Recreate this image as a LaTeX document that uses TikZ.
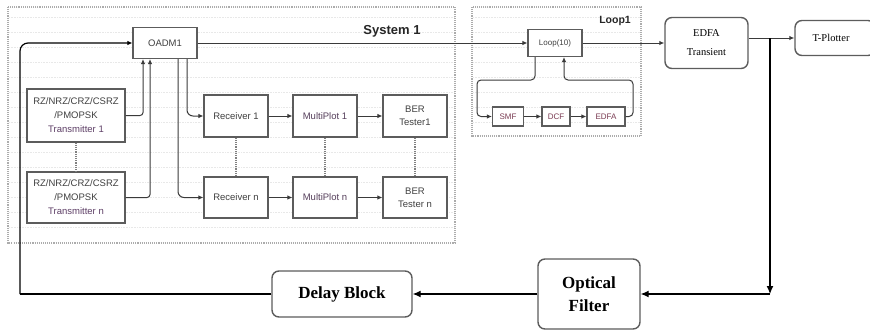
\documentclass[tikz,border=0pt]{standalone}
\usepackage{fontspec}
\setmainfont{Liberation Serif}
\setsansfont{Liberation Sans}
\usetikzlibrary{arrows.meta}
\definecolor{boxline}{HTML}{5C5C5C}
\definecolor{wire}{HTML}{3A3A3A}
\definecolor{txtgray}{HTML}{404040}
\definecolor{purp}{HTML}{5E3F66}
\definecolor{redp}{HTML}{7A3B52}
\begin{document}
\begin{tikzpicture}[x=1pt,y=-1pt,
  blk/.style={draw=boxline, line width=1.1pt, fill=white, inner sep=0pt,
    align=center, text=txtgray, font=\sffamily\fontsize{9.5}{13}\selectfont},
  small/.style={blk, font=\sffamily\fontsize{8}{9}\selectfont, text=redp},
  rblk/.style={draw=boxline, line width=1.4pt, fill=white, rounded corners=7pt,
    inner sep=0pt, align=center, text=black},
  arr/.style={draw=wire, line width=1pt, -{Latex[length=5pt,width=4.5pt]}},
  bigarr/.style={draw=black, line width=1.2pt, -{Latex[length=8pt,width=7pt]}},
  vlink/.style={draw=gray, densely dotted, line width=1.2pt},
  frame/.style={draw=gray!65, densely dotted, line width=1.1pt},
  gridline/.style={draw=gray!18, densely dotted, line width=0.6pt},
  title/.style={font=\sffamily\bfseries\fontsize{13}{15}\selectfont, text=black!85}]
\useasboundingbox (0,0) rectangle (870,332);

% dotted frames with a faint grid
\foreach \yy in {17,32,...,232} \draw[gridline] (9,\yy) -- (454,\yy);
\foreach \yy in {17,32,...,127} \draw[gridline] (473,\yy) -- (640,\yy);
\draw[frame] (8,7) rectangle (455,243);
\draw[frame] (472,7) rectangle (641,136);

\node[title] (sys) at (392,31) {System 1};
\node[title, font=\sffamily\bfseries\fontsize{10.5}{12}\selectfont] (lp1) at (615,21) {Loop1};

% system 1 blocks
\node[blk, minimum width=64pt, minimum height=31pt] (oadm) at (165,43) {OADM1};
\node[blk, minimum width=98pt, minimum height=53pt, font=\sffamily\fontsize{9.5}{14}\selectfont] (tx1) at (76,115.5)
  {RZ/NRZ/CRZ/CSRZ\\/PMOPSK\\\textcolor{purp}{Transmitter 1}};
\node[blk, minimum width=98pt, minimum height=51pt, font=\sffamily\fontsize{9.5}{14}\selectfont] (txn) at (76,197.5)
  {RZ/NRZ/CRZ/CSRZ\\/PMOPSK\\\textcolor{purp}{Transmitter n}};
\node[blk, minimum width=64pt, minimum height=42pt] (rx1) at (236,116) {Receiver 1};
\node[blk, minimum width=64pt, minimum height=41pt] (rxn) at (236,197.5) {Receiver n};
\node[blk, minimum width=64pt, minimum height=42pt, text=purp!70!txtgray] (mp1) at (325,116) {MultiPlot 1};
\node[blk, minimum width=64pt, minimum height=41pt, text=purp!70!txtgray] (mpn) at (325,197.5) {MultiPlot n};
\node[blk, minimum width=64pt, minimum height=42pt] (ber1) at (415,116) {BER\\Tester1};
\node[blk, minimum width=64pt, minimum height=41pt] (bern) at (415,197.5) {BER\\Tester n};

% loop blocks
\node[blk, minimum width=54pt, minimum height=27pt, font=\sffamily\fontsize{8}{9}\selectfont] (loop) at (555,43) {Loop(10)};
\node[small, minimum width=31pt, minimum height=19pt] (smf) at (508,116.5) {SMF};
\node[small, minimum width=28pt, minimum height=19pt] (dcf) at (556,116.5) {DCF};
\node[small, minimum width=38pt, minimum height=19pt] (edfa) at (606,116.5) {EDFA};

% blocks outside the frames
\node[rblk, minimum width=83pt, minimum height=51pt, font=\fontsize{10.5}{19}\selectfont] (edfat) at (706.5,43) {EDFA\\Transient};
\node[rblk, minimum width=80pt, minimum height=35pt, font=\fontsize{10.5}{12}\selectfont, text width=60pt] (tplot) at (835,38) {T-Plotter\hspace*{8pt}};
\node[rblk, minimum width=140pt, minimum height=46pt, font=\bfseries\fontsize{17}{20}\selectfont] (delay) at (342,294) {Delay Block};
\node[rblk, minimum width=102pt, minimum height=70pt, font=\bfseries\fontsize{17}{23}\selectfont] (filter) at (589,294) {Optical\\Filter};

% transmitters into the OADM
\draw[arr, rounded corners=3pt] (tx1.east) -| ([xshift=-22pt]oadm.south);
\draw[arr, rounded corners=3pt] (txn.east) -| ([xshift=-15pt]oadm.south);
% OADM drops to the receivers
\draw[arr, rounded corners=6pt] ([xshift=22pt]oadm.south) |- (rx1.west);
\draw[arr, rounded corners=6pt] ([xshift=13pt]oadm.south) |- (rxn.west);
% receiver chains
\draw[arr] (rx1) -- (mp1);
\draw[arr] (mp1) -- (ber1);
\draw[arr] (rxn) -- (mpn);
\draw[arr] (mpn) -- (bern);
% dotted links between the first and n-th channel
\draw[vlink] (tx1.south) -- (txn.north);
\draw[vlink] (rx1.south) -- (rxn.north);
\draw[vlink] (mp1.south) -- (mpn.north);
\draw[vlink] (ber1.south) -- (bern.north);

% OADM to loop and on to the amplifier
\draw[arr] (oadm.east) -- (loop.west);
\draw[arr] (loop.east) -- (edfat.west);

% recirculating loop
\coordinate (la) at (535,80);
\coordinate (lb) at (477,80);
\coordinate (lc) at (633,80);
\coordinate (ld) at (564,80);
\draw[arr, rounded corners=4pt] (loop.south -| la) -- (la) -- (lb) |- (smf.west);
\draw[arr] (smf) -- (dcf);
\draw[arr] (dcf) -- (edfa);
\draw[arr, rounded corners=4pt] (edfa.east) -| (lc) -- (ld) -- (loop.south -| ld);

% output branch and feedback path
\coordinate (br) at (770,38);
\coordinate (brc) at (770,294);
\coordinate (fbl) at (20,294);
\coordinate (fbt) at (20,43);
\draw[arr] (edfat.east |- tplot.west) -- (tplot.west);
\draw[bigarr] (br) -- (brc);
\draw[bigarr] (brc) -- (filter.east);
\draw[bigarr] (filter.west) -- (delay.east);
\draw[draw=black, line width=1.2pt] (delay.west) -- (fbl);
\draw[arr, draw=black, line width=1.2pt, rounded corners=8pt] (fbl) -- (fbt) -- (oadm.west);
\end{tikzpicture}
\end{document}
